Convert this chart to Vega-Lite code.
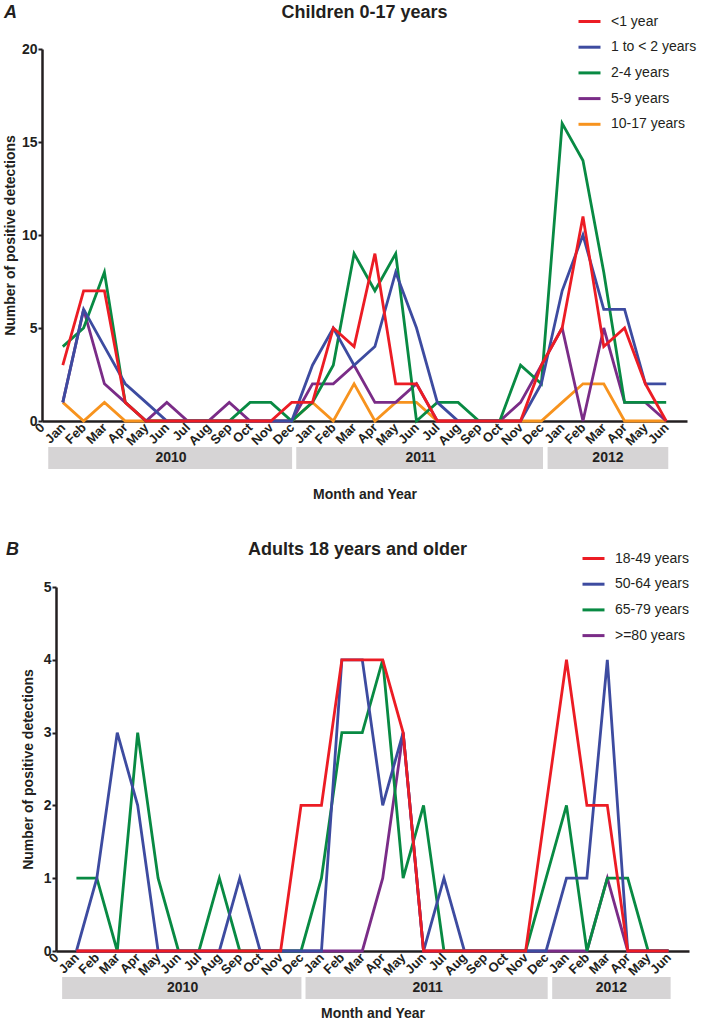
{
  "$schema": "https://vega.github.io/schema/vega-lite/v6.json",
  "padding": {"left": 3, "top": 4, "right": 0, "bottom": 0},
  "background": "white",
  "config": {
    "font": "Liberation Sans",
    "view": {"stroke": null},
    "axis": {
      "grid": false,
      "zindex": 0,
      "domainColor": "#231f20",
      "domainWidth": 2.5,
      "tickColor": "#231f20",
      "tickWidth": 2,
      "labelFont": "Liberation Sans",
      "labelFontWeight": "bold",
      "labelColor": "#231f20",
      "titleFont": "Liberation Sans",
      "titleFontWeight": "bold",
      "titleColor": "#231f20",
      "titleFontSize": 14
    },
    "title": {"font": "Liberation Sans", "fontSize": 18, "fontWeight": "bold", "color": "#231f20"},
    "legend": {
      "orient": "none",
      "title": null,
      "symbolType": "stroke",
      "symbolSize": 484,
      "symbolStrokeWidth": 3,
      "labelFont": "Liberation Sans",
      "labelFontSize": 14,
      "labelColor": "#231f20",
      "labelOffset": 9,
      "rowPadding": 5.7,
      "padding": 0
    }
  },
  "datasets": {
    "years": [
      {"year": "2010", "start": 0.3, "end": 12.02, "mid": 6.2},
      {"year": "2011", "start": 12.22, "end": 24.08, "mid": 18.2},
      {"year": "2012", "start": 24.3, "end": 30.1, "mid": 27.2}
    ],
    "children": [
      {"m":1,"g":"10-17 years","v":1},{"m":2,"g":"10-17 years","v":0},{"m":3,"g":"10-17 years","v":1},{"m":4,"g":"10-17 years","v":0},{"m":5,"g":"10-17 years","v":0},{"m":6,"g":"10-17 years","v":0},{"m":7,"g":"10-17 years","v":0},{"m":8,"g":"10-17 years","v":0},{"m":9,"g":"10-17 years","v":0},{"m":10,"g":"10-17 years","v":0},{"m":11,"g":"10-17 years","v":0},{"m":12,"g":"10-17 years","v":0},
      {"m":13,"g":"10-17 years","v":1},{"m":14,"g":"10-17 years","v":0},{"m":15,"g":"10-17 years","v":2},{"m":16,"g":"10-17 years","v":0},{"m":17,"g":"10-17 years","v":1},{"m":18,"g":"10-17 years","v":1},{"m":19,"g":"10-17 years","v":0},{"m":20,"g":"10-17 years","v":0},{"m":21,"g":"10-17 years","v":0},{"m":22,"g":"10-17 years","v":0},{"m":23,"g":"10-17 years","v":0},{"m":24,"g":"10-17 years","v":0},
      {"m":25,"g":"10-17 years","v":1},{"m":26,"g":"10-17 years","v":2},{"m":27,"g":"10-17 years","v":2},{"m":28,"g":"10-17 years","v":0},{"m":29,"g":"10-17 years","v":0},{"m":30,"g":"10-17 years","v":0},

      {"m":1,"g":"5-9 years","v":1},{"m":2,"g":"5-9 years","v":6},{"m":3,"g":"5-9 years","v":2},{"m":4,"g":"5-9 years","v":1},{"m":5,"g":"5-9 years","v":0},{"m":6,"g":"5-9 years","v":1},{"m":7,"g":"5-9 years","v":0},{"m":8,"g":"5-9 years","v":0},{"m":9,"g":"5-9 years","v":1},{"m":10,"g":"5-9 years","v":0},{"m":11,"g":"5-9 years","v":0},{"m":12,"g":"5-9 years","v":0},
      {"m":13,"g":"5-9 years","v":2},{"m":14,"g":"5-9 years","v":2},{"m":15,"g":"5-9 years","v":3},{"m":16,"g":"5-9 years","v":1},{"m":17,"g":"5-9 years","v":1},{"m":18,"g":"5-9 years","v":2},{"m":19,"g":"5-9 years","v":0},{"m":20,"g":"5-9 years","v":0},{"m":21,"g":"5-9 years","v":0},{"m":22,"g":"5-9 years","v":0},{"m":23,"g":"5-9 years","v":1},{"m":24,"g":"5-9 years","v":3},
      {"m":25,"g":"5-9 years","v":5},{"m":26,"g":"5-9 years","v":0},{"m":27,"g":"5-9 years","v":5},{"m":28,"g":"5-9 years","v":1},{"m":29,"g":"5-9 years","v":1},{"m":30,"g":"5-9 years","v":0},

      {"m":1,"g":"2-4 years","v":4},{"m":2,"g":"2-4 years","v":5},{"m":3,"g":"2-4 years","v":8},{"m":4,"g":"2-4 years","v":1},{"m":5,"g":"2-4 years","v":0},{"m":6,"g":"2-4 years","v":0},{"m":7,"g":"2-4 years","v":0},{"m":8,"g":"2-4 years","v":0},{"m":9,"g":"2-4 years","v":0},{"m":10,"g":"2-4 years","v":1},{"m":11,"g":"2-4 years","v":1},{"m":12,"g":"2-4 years","v":0},
      {"m":13,"g":"2-4 years","v":1},{"m":14,"g":"2-4 years","v":3},{"m":15,"g":"2-4 years","v":9},{"m":16,"g":"2-4 years","v":7},{"m":17,"g":"2-4 years","v":9},{"m":18,"g":"2-4 years","v":0},{"m":19,"g":"2-4 years","v":1},{"m":20,"g":"2-4 years","v":1},{"m":21,"g":"2-4 years","v":0},{"m":22,"g":"2-4 years","v":0},{"m":23,"g":"2-4 years","v":3},{"m":24,"g":"2-4 years","v":2},
      {"m":25,"g":"2-4 years","v":16},{"m":26,"g":"2-4 years","v":14},{"m":27,"g":"2-4 years","v":8},{"m":28,"g":"2-4 years","v":1},{"m":29,"g":"2-4 years","v":1},{"m":30,"g":"2-4 years","v":1},

      {"m":1,"g":"1 to < 2 years","v":1},{"m":2,"g":"1 to < 2 years","v":6},{"m":3,"g":"1 to < 2 years","v":4},{"m":4,"g":"1 to < 2 years","v":2},{"m":5,"g":"1 to < 2 years","v":1},{"m":6,"g":"1 to < 2 years","v":0},{"m":7,"g":"1 to < 2 years","v":0},{"m":8,"g":"1 to < 2 years","v":0},{"m":9,"g":"1 to < 2 years","v":0},{"m":10,"g":"1 to < 2 years","v":0},{"m":11,"g":"1 to < 2 years","v":0},{"m":12,"g":"1 to < 2 years","v":0},
      {"m":13,"g":"1 to < 2 years","v":3},{"m":14,"g":"1 to < 2 years","v":5},{"m":15,"g":"1 to < 2 years","v":3},{"m":16,"g":"1 to < 2 years","v":4},{"m":17,"g":"1 to < 2 years","v":8},{"m":18,"g":"1 to < 2 years","v":5},{"m":19,"g":"1 to < 2 years","v":1},{"m":20,"g":"1 to < 2 years","v":0},{"m":21,"g":"1 to < 2 years","v":0},{"m":22,"g":"1 to < 2 years","v":0},{"m":23,"g":"1 to < 2 years","v":0},{"m":24,"g":"1 to < 2 years","v":2},
      {"m":25,"g":"1 to < 2 years","v":7},{"m":26,"g":"1 to < 2 years","v":10},{"m":27,"g":"1 to < 2 years","v":6},{"m":28,"g":"1 to < 2 years","v":6},{"m":29,"g":"1 to < 2 years","v":2},{"m":30,"g":"1 to < 2 years","v":2},

      {"m":1,"g":"<1 year","v":3},{"m":2,"g":"<1 year","v":7},{"m":3,"g":"<1 year","v":7},{"m":4,"g":"<1 year","v":1},{"m":5,"g":"<1 year","v":0},{"m":6,"g":"<1 year","v":0},{"m":7,"g":"<1 year","v":0},{"m":8,"g":"<1 year","v":0},{"m":9,"g":"<1 year","v":0},{"m":10,"g":"<1 year","v":0},{"m":11,"g":"<1 year","v":0},{"m":12,"g":"<1 year","v":1},
      {"m":13,"g":"<1 year","v":1},{"m":14,"g":"<1 year","v":5},{"m":15,"g":"<1 year","v":4},{"m":16,"g":"<1 year","v":9},{"m":17,"g":"<1 year","v":2},{"m":18,"g":"<1 year","v":2},{"m":19,"g":"<1 year","v":0},{"m":20,"g":"<1 year","v":0},{"m":21,"g":"<1 year","v":0},{"m":22,"g":"<1 year","v":0},{"m":23,"g":"<1 year","v":0},{"m":24,"g":"<1 year","v":3},
      {"m":25,"g":"<1 year","v":5},{"m":26,"g":"<1 year","v":11},{"m":27,"g":"<1 year","v":4},{"m":28,"g":"<1 year","v":5},{"m":29,"g":"<1 year","v":2},{"m":30,"g":"<1 year","v":0}
    ],
    "adults": [
      {"m":1,"g":">=80 years","v":0},{"m":2,"g":">=80 years","v":0},{"m":3,"g":">=80 years","v":0},{"m":4,"g":">=80 years","v":0},{"m":5,"g":">=80 years","v":0},{"m":6,"g":">=80 years","v":0},{"m":7,"g":">=80 years","v":0},{"m":8,"g":">=80 years","v":0},{"m":9,"g":">=80 years","v":0},{"m":10,"g":">=80 years","v":0},{"m":11,"g":">=80 years","v":0},{"m":12,"g":">=80 years","v":0},
      {"m":13,"g":">=80 years","v":0},{"m":14,"g":">=80 years","v":0},{"m":15,"g":">=80 years","v":0},{"m":16,"g":">=80 years","v":1},{"m":17,"g":">=80 years","v":3},{"m":18,"g":">=80 years","v":0},{"m":19,"g":">=80 years","v":0},{"m":20,"g":">=80 years","v":0},{"m":21,"g":">=80 years","v":0},{"m":22,"g":">=80 years","v":0},{"m":23,"g":">=80 years","v":0},{"m":24,"g":">=80 years","v":0},
      {"m":25,"g":">=80 years","v":0},{"m":26,"g":">=80 years","v":0},{"m":27,"g":">=80 years","v":1},{"m":28,"g":">=80 years","v":0},{"m":29,"g":">=80 years","v":0},{"m":30,"g":">=80 years","v":0},

      {"m":1,"g":"65-79 years","v":1},{"m":2,"g":"65-79 years","v":1},{"m":3,"g":"65-79 years","v":0},{"m":4,"g":"65-79 years","v":3},{"m":5,"g":"65-79 years","v":1},{"m":6,"g":"65-79 years","v":0},{"m":7,"g":"65-79 years","v":0},{"m":8,"g":"65-79 years","v":1},{"m":9,"g":"65-79 years","v":0},{"m":10,"g":"65-79 years","v":0},{"m":11,"g":"65-79 years","v":0},{"m":12,"g":"65-79 years","v":0},
      {"m":13,"g":"65-79 years","v":1},{"m":14,"g":"65-79 years","v":3},{"m":15,"g":"65-79 years","v":3},{"m":16,"g":"65-79 years","v":4},{"m":17,"g":"65-79 years","v":1},{"m":18,"g":"65-79 years","v":2},{"m":19,"g":"65-79 years","v":0},{"m":20,"g":"65-79 years","v":0},{"m":21,"g":"65-79 years","v":0},{"m":22,"g":"65-79 years","v":0},{"m":23,"g":"65-79 years","v":0},{"m":24,"g":"65-79 years","v":1},
      {"m":25,"g":"65-79 years","v":2},{"m":26,"g":"65-79 years","v":0},{"m":27,"g":"65-79 years","v":1},{"m":28,"g":"65-79 years","v":1},{"m":29,"g":"65-79 years","v":0},{"m":30,"g":"65-79 years","v":0},

      {"m":1,"g":"50-64 years","v":0},{"m":2,"g":"50-64 years","v":1},{"m":3,"g":"50-64 years","v":3},{"m":4,"g":"50-64 years","v":2},{"m":5,"g":"50-64 years","v":0},{"m":6,"g":"50-64 years","v":0},{"m":7,"g":"50-64 years","v":0},{"m":8,"g":"50-64 years","v":0},{"m":9,"g":"50-64 years","v":1},{"m":10,"g":"50-64 years","v":0},{"m":11,"g":"50-64 years","v":0},{"m":12,"g":"50-64 years","v":0},
      {"m":13,"g":"50-64 years","v":0},{"m":14,"g":"50-64 years","v":4},{"m":15,"g":"50-64 years","v":4},{"m":16,"g":"50-64 years","v":2},{"m":17,"g":"50-64 years","v":3},{"m":18,"g":"50-64 years","v":0},{"m":19,"g":"50-64 years","v":1},{"m":20,"g":"50-64 years","v":0},{"m":21,"g":"50-64 years","v":0},{"m":22,"g":"50-64 years","v":0},{"m":23,"g":"50-64 years","v":0},{"m":24,"g":"50-64 years","v":0},
      {"m":25,"g":"50-64 years","v":1},{"m":26,"g":"50-64 years","v":1},{"m":27,"g":"50-64 years","v":4},{"m":28,"g":"50-64 years","v":0},{"m":29,"g":"50-64 years","v":0},{"m":30,"g":"50-64 years","v":0},

      {"m":1,"g":"18-49 years","v":0},{"m":2,"g":"18-49 years","v":0},{"m":3,"g":"18-49 years","v":0},{"m":4,"g":"18-49 years","v":0},{"m":5,"g":"18-49 years","v":0},{"m":6,"g":"18-49 years","v":0},{"m":7,"g":"18-49 years","v":0},{"m":8,"g":"18-49 years","v":0},{"m":9,"g":"18-49 years","v":0},{"m":10,"g":"18-49 years","v":0},{"m":11,"g":"18-49 years","v":0},{"m":12,"g":"18-49 years","v":2},
      {"m":13,"g":"18-49 years","v":2},{"m":14,"g":"18-49 years","v":4},{"m":15,"g":"18-49 years","v":4},{"m":16,"g":"18-49 years","v":4},{"m":17,"g":"18-49 years","v":3},{"m":18,"g":"18-49 years","v":0},{"m":19,"g":"18-49 years","v":0},{"m":20,"g":"18-49 years","v":0},{"m":21,"g":"18-49 years","v":0},{"m":22,"g":"18-49 years","v":0},{"m":23,"g":"18-49 years","v":0},{"m":24,"g":"18-49 years","v":2},
      {"m":25,"g":"18-49 years","v":4},{"m":26,"g":"18-49 years","v":2},{"m":27,"g":"18-49 years","v":2},{"m":28,"g":"18-49 years","v":0},{"m":29,"g":"18-49 years","v":0},{"m":30,"g":"18-49 years","v":0}
    ]
  },
  "spacing": 40,
  "resolve": {"scale": {"color": "independent", "x": "independent", "y": "independent"}, "legend": {"color": "independent"}},
  "vconcat": [
    {
      "title": {"text": "A", "anchor": "start", "frame": "group", "dx": -38, "offset": -18, "fontSize": 18, "fontStyle": "italic", "fontWeight": "bold"},
      "bounds": "flush",
      "spacing": 26,
      "resolve": {"scale": {"x": "independent", "y": "independent"}},
      "vconcat": [
        {
          "width": 645,
          "height": 372,
          "title": {"text": "Children 0-17 years", "anchor": "middle", "frame": "group", "offset": 20},
          "data": {"name": "children"},
          "mark": {"type": "line", "strokeWidth": 2.8, "clip": false},
          "encoding": {
            "x": {
              "field": "m", "type": "quantitative",
              "scale": {"domain": [0, 31], "nice": false, "zero": false},
              "axis": {
                "title": null,
                "values": [0,1,2,3,4,5,6,7,8,9,10,11,12,13,14,15,16,17,18,19,20,21,22,23,24,25,26,27,28,29,30],
                "labelExpr": "datum.value == 0 ? '0' : ['Jan','Feb','Mar','Apr','May','Jun','Jul','Aug','Sep','Oct','Nov','Dec'][(datum.value - 1) % 12]",
                "labelAngle": -45, "labelAlign": "right", "labelBaseline": "middle",
                "labelFontSize": 13, "labelPadding": 4, "ticks": false, "labelOverlap": false, "labelBound": false, "labelFlush": false
              }
            },
            "y": {
              "field": "v", "type": "quantitative",
              "scale": {"domain": [0, 20], "nice": false},
              "axis": {"title": "Number of positive detections", "values": [0, 5, 10, 15, 20], "labelFontSize": 14, "tickSize": 4, "labelPadding": 1, "titlePadding": 4}
            },
            "color": {
              "field": "g", "type": "nominal",
              "scale": {"domain": ["<1 year", "1 to < 2 years", "2-4 years", "5-9 years", "10-17 years"], "range": ["#ec1c24", "#3d4ba0", "#088a43", "#7a2c87", "#f7931e"]},
              "legend": {"legendX": 535, "legendY": -40}
            }
          }
        },
        {
          "width": 645,
          "height": 22,
          "data": {"name": "years"},
          "layer": [
            {
              "mark": {"type": "rect", "color": "#d6d4d5"},
              "encoding": {
                "x": {"field": "start", "type": "quantitative", "scale": {"domain": [0, 31], "nice": false, "zero": false},
                      "axis": {"title": "Month and Year", "labels": false, "ticks": false, "domain": false, "titlePadding": 18}},
                "x2": {"field": "end"}
              }
            },
            {
              "mark": {"type": "text", "fontWeight": "bold", "fontSize": 14, "color": "#231f20"},
              "encoding": {"x": {"field": "mid", "type": "quantitative"}, "text": {"field": "year"}}
            }
          ]
        }
      ]
    },
    {
      "title": {"text": "B", "anchor": "start", "frame": "group", "dx": -36, "offset": -18, "fontSize": 18, "fontStyle": "italic", "fontWeight": "bold"},
      "bounds": "flush",
      "spacing": 26,
      "resolve": {"scale": {"x": "independent", "y": "independent"}},
      "vconcat": [
        {
          "width": 647,
          "height": 364,
          "title": {"text": "Adults 18 years and older", "anchor": "middle", "frame": "group", "offset": 21, "dx": -8},
          "data": {"name": "adults"},
          "mark": {"type": "line", "strokeWidth": 2.8, "clip": false},
          "encoding": {
            "x": {
              "field": "m", "type": "quantitative",
              "scale": {"domain": [0, 31], "nice": false, "zero": false, "range": [14, 647]},
              "axis": {
                "title": null,
                "values": [0,1,2,3,4,5,6,7,8,9,10,11,12,13,14,15,16,17,18,19,20,21,22,23,24,25,26,27,28,29,30],
                "labelExpr": "datum.value == 0 ? '0' : ['Jan','Feb','Mar','Apr','May','Jun','Jul','Aug','Sep','Oct','Nov','Dec'][(datum.value - 1) % 12]",
                "labelAngle": -45, "labelAlign": "right", "labelBaseline": "middle",
                "labelFontSize": 13, "labelPadding": 4, "ticks": false, "labelOverlap": false, "labelBound": false, "labelFlush": false
              }
            },
            "y": {
              "field": "v", "type": "quantitative",
              "scale": {"domain": [0, 5], "nice": false},
              "axis": {"title": "Number of positive detections", "values": [0, 1, 2, 3, 4, 5], "labelFontSize": 14, "tickSize": 4, "labelPadding": 1, "titlePadding": 8, "offset": -14}
            },
            "color": {
              "field": "g", "type": "nominal",
              "scale": {"domain": ["18-49 years", "50-64 years", "65-79 years", ">=80 years"], "range": ["#ec1c24", "#3d4ba0", "#088a43", "#7a2c87"]},
              "legend": {"legendX": 539, "legendY": -41}
            }
          }
        },
        {
          "width": 647,
          "height": 22,
          "data": {"name": "years"},
          "layer": [
            {
              "mark": {"type": "rect", "color": "#d6d4d5"},
              "encoding": {
                "x": {"field": "start", "type": "quantitative", "scale": {"domain": [0, 31], "nice": false, "zero": false, "range": [14, 647]},
                      "axis": {"title": "Month and Year", "labels": false, "ticks": false, "domain": false, "titlePadding": 7}},
                "x2": {"field": "end"}
              }
            },
            {
              "mark": {"type": "text", "fontWeight": "bold", "fontSize": 14, "color": "#231f20"},
              "encoding": {"x": {"field": "mid", "type": "quantitative"}, "text": {"field": "year"}}
            }
          ]
        }
      ]
    }
  ]
}
